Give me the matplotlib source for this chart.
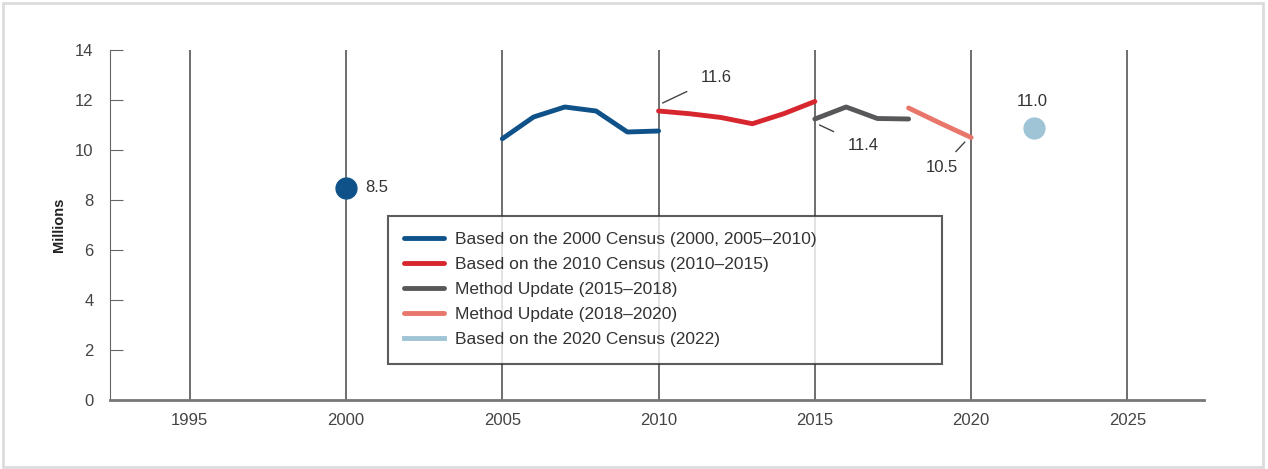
import matplotlib.pyplot as plt
from matplotlib.patches import Rectangle

plt.rcParams['font.family'] = ['Liberation Sans', 'DejaVu Sans']

# data (millions)
years_2000 = [2005, 2006, 2007, 2008, 2009, 2010]
vals_2000 = [10.45, 11.32, 11.72, 11.56, 10.72, 10.76]
year_2000_pt = [2000]
val_2000_pt = [8.5]
years_2010 = [2010, 2011, 2012, 2013, 2014, 2015]
vals_2010 = [11.56, 11.45, 11.3, 11.05, 11.45, 11.94]
years_m1 = [2015, 2016, 2017, 2018]
vals_m1 = [11.24, 11.72, 11.26, 11.24]
years_m2 = [2018, 2019, 2020]
vals_m2 = [11.68, 11.08, 10.5]
years_2020 = [2022]
vals_2020 = [10.88]

labels = ['Based on the 2000 Census (2000, 2005\u20132010)',
          'Based on the 2010 Census (2010\u20132015)',
          'Method Update (2015\u20132018)',
          'Method Update (2018\u20132020)',
          'Based on the 2020 Census (2022)']
colors = ['#0f5289', '#d7262e', '#58585b', '#e8766b', '#9fc4d6']

fig = plt.figure(figsize=(12.68, 4.69), dpi=100)
fig.patches.append(Rectangle((0.002, 0.004), 0.994, 0.99, transform=fig.transFigure,
                             fill=False, edgecolor='#dcdcdc', linewidth=2))
ax = fig.add_axes([0.0868, 0.1471, 0.8627, 0.7463])

lw = 3.5
ax.plot(years_2000, vals_2000, color=colors[0], lw=lw, solid_capstyle='round', label=labels[0])
ax.plot(year_2000_pt, val_2000_pt, 'o', color=colors[0], ms=15)
ax.plot(years_2010, vals_2010, color=colors[1], lw=lw, solid_capstyle='round', label=labels[1])
ax.plot(years_m1, vals_m1, color=colors[2], lw=lw, solid_capstyle='round', label=labels[2])
ax.plot(years_m2, vals_m2, color=colors[3], lw=lw, solid_capstyle='round', label=labels[3])
ax.plot(years_2020, vals_2020, 'o', color=colors[4], ms=15)
ax.plot([], [], color=colors[4], lw=lw, label=labels[4])

# annotations
tc = '#333333'
fs = 12
ax.text(2000.6, 8.5, '8.5', fontsize=fs, color=tc, va='center', ha='left')
ax.annotate('11.6', xy=(2010.13, 11.88), xytext=(2011.85, 12.9), fontsize=fs, color=tc,
            ha='center', va='center',
            arrowprops=dict(arrowstyle='-', color='#444444', lw=1, shrinkA=9, shrinkB=0))
ax.annotate('11.4', xy=(2015.15, 11.0), xytext=(2016.55, 10.18), fontsize=fs, color=tc,
            ha='center', va='center',
            arrowprops=dict(arrowstyle='-', color='#444444', lw=1, shrinkA=9, shrinkB=0))
ax.annotate('10.5', xy=(2019.8, 10.32), xytext=(2019.05, 9.32), fontsize=fs, color=tc,
            ha='center', va='center',
            arrowprops=dict(arrowstyle='-', color='#444444', lw=1, shrinkA=5, shrinkB=0))
ax.text(2021.95, 11.92, '11.0', fontsize=fs, color=tc, ha='center', va='center')

ax.set_xlim(1992.45, 2027.45)
ax.set_ylim(0, 14)
ax.set_xticks(range(1995, 2030, 5))
ax.set_yticks(range(0, 16, 2))
ax.grid(axis='x', color='#555555', lw=1.2)
ax.set_axisbelow(True)
for s in ['top', 'right']:
    ax.spines[s].set_visible(False)
ax.spines['left'].set_color('#666666')
ax.spines['bottom'].set_color('#777777')
ax.spines['bottom'].set_linewidth(2)
ax.tick_params(axis='y', direction='in', length=9, color='#666666', labelcolor='#444444',
               labelsize=12, pad=12)
ax.tick_params(axis='x', direction='in', length=0, labelcolor='#444444', labelsize=12, pad=9)
ax.set_ylabel('Millions', fontsize=10.5, fontweight='bold', color='#222222', labelpad=6)

leg = ax.legend(loc='lower left', bbox_to_anchor=(0.254, 0.103, 0.5065, 0.426), mode='expand',
                fontsize=12.5, frameon=True, fancybox=False, handlelength=2.3,
                labelspacing=0.57, borderpad=0.95, handletextpad=0.6, borderaxespad=0)
leg.get_frame().set_edgecolor('#333333')
leg.get_frame().set_linewidth(1.5)
for t in leg.get_texts():
    t.set_color('#333333')

plt.savefig('out.png', dpi=100)
plt.close()
